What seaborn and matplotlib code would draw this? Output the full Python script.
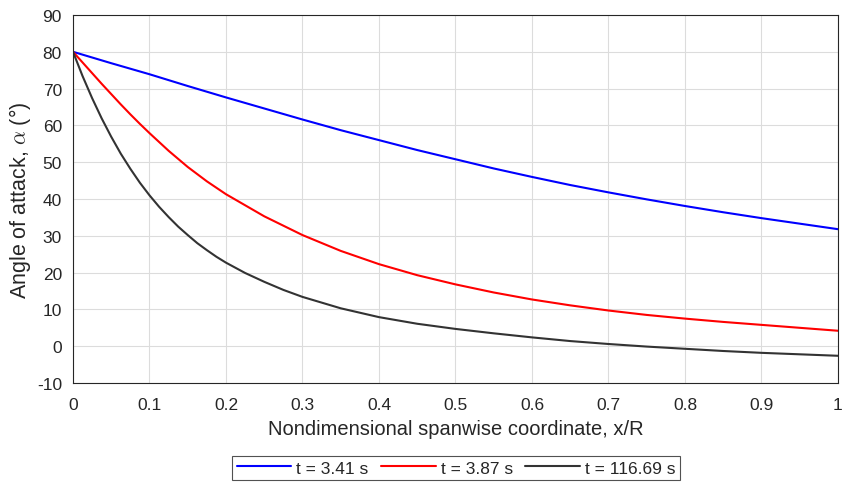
import numpy as np
import pandas as pd
import matplotlib
matplotlib.use("Agg")
import matplotlib.pyplot as plt
import seaborn as sns

# ---- data ----
series_labels = ["t = 3.41 s", "t = 3.87 s", "t = 116.69 s"]
series_colors = ["#0000ff", "#ff0000", "#333333"]

x_blue = [0, 0.05, 0.1, 0.15, 0.2, 0.25, 0.3, 0.35, 0.4, 0.45, 0.5,
          0.55, 0.6, 0.65, 0.7, 0.75, 0.8, 0.85, 0.9, 0.95, 1.0]
a_blue = [80, 76.9, 73.9, 70.7, 67.6, 64.6, 61.6, 58.7, 56.0, 53.3, 50.8,
          48.3, 46.0, 43.8, 41.8, 39.9, 38.1, 36.4, 34.8, 33.3, 31.8]

x_red = [0, 0.0125, 0.025, 0.0375, 0.05, 0.0625, 0.075, 0.0875, 0.1, 0.125, 0.15,
         0.175, 0.2, 0.25, 0.3, 0.35, 0.4, 0.45, 0.5, 0.55, 0.6, 0.65, 0.7, 0.75,
         0.8, 0.85, 0.9, 0.95, 1.0]
a_red = [80, 77.1, 74.2, 71.3, 68.5, 65.7, 63.0, 60.4, 57.9, 53.1, 48.7,
         44.8, 41.3, 35.3, 30.2, 25.9, 22.3, 19.3, 16.8, 14.6, 12.7, 11.1, 9.7, 8.5,
         7.5, 6.6, 5.8, 5.0, 4.2]

x_black = [0, 0.0125, 0.025, 0.0375, 0.05, 0.0625, 0.075, 0.0875, 0.1, 0.1125, 0.125,
           0.1375, 0.15, 0.1625, 0.175, 0.1875, 0.2, 0.225, 0.25, 0.275, 0.3, 0.35,
           0.4, 0.45, 0.5, 0.55, 0.6, 0.65, 0.7, 0.75, 0.8, 0.85, 0.9, 0.95, 1.0]
a_black = [80, 73.4, 67.4, 61.9, 56.9, 52.3, 48.2, 44.4, 41.0, 37.9, 35.1,
           32.5, 30.2, 28.0, 26.1, 24.3, 22.7, 19.9, 17.5, 15.3, 13.4, 10.3,
           7.9, 6.1, 4.7, 3.5, 2.4, 1.4, 0.6, -0.1, -0.7, -1.3, -1.8, -2.2, -2.6]

x_ticks = [0, 0.1, 0.2, 0.3, 0.4, 0.5, 0.6, 0.7, 0.8, 0.9, 1]
x_tick_labels = ["0", "0.1", "0.2", "0.3", "0.4", "0.5", "0.6", "0.7", "0.8", "0.9", "1"]
y_ticks = [-10, 0, 10, 20, 30, 40, 50, 60, 70, 80, 90]

df = pd.concat([
    pd.DataFrame({"x": x_blue, "alpha": a_blue, "series": series_labels[0]}),
    pd.DataFrame({"x": x_red, "alpha": a_red, "series": series_labels[1]}),
    pd.DataFrame({"x": x_black, "alpha": a_black, "series": series_labels[2]}),
], ignore_index=True)

sns.set_style("white")
plt.rcParams["font.family"] = ["Liberation Sans", "DejaVu Sans"]
plt.rcParams["mathtext.fontset"] = "cm"
plt.rcParams["axes.unicode_minus"] = False

fig = plt.figure(figsize=(8.42, 4.89), dpi=100)
ax = fig.add_axes([0.0867, 0.2147, 0.9085, 0.7526])

sns.lineplot(data=df, x="x", y="alpha", hue="series", hue_order=series_labels,
             palette=dict(zip(series_labels, series_colors)), estimator=None,
             sort=False, linewidth=1.5, ax=ax, legend=False)

ax.set_xlim(0, 1)
ax.set_ylim(-10, 90)
ax.set_xticks(x_ticks)
ax.set_xticklabels(x_tick_labels)
ax.set_yticks(y_ticks)
ax.grid(True, color="#dcdcdc", linewidth=0.8)
ax.set_axisbelow(True)
ax.tick_params(length=0, labelsize=12.5, colors="#262626")
ax.tick_params(axis="y", pad=8)
ax.tick_params(axis="x", pad=10)
for s in ax.spines.values():
    s.set_color("#262626")
    s.set_linewidth(0.8)
    s.set_visible(True)

ax.set_xlabel("Nondimensional spanwise coordinate, x/R", fontsize=14.5, color="#262626", labelpad=5)
ax.set_ylabel(r"Angle of attack, $\alpha$ (°)", fontsize=15.5, color="#262626", labelpad=3)

handles = [plt.Line2D([], [], color=c, linewidth=1.5) for c in series_colors]
leg = fig.legend(handles, series_labels, loc="center", bbox_to_anchor=(0.5416, 0.041),
                 ncol=3, frameon=True, fancybox=False, fontsize=12.5,
                 handlelength=3.15, handletextpad=0.3, columnspacing=0.7,
                 borderpad=0.25, borderaxespad=0, edgecolor="#262626")
leg.get_frame().set_linewidth(0.8)

fig.savefig("out.png", dpi=100)
